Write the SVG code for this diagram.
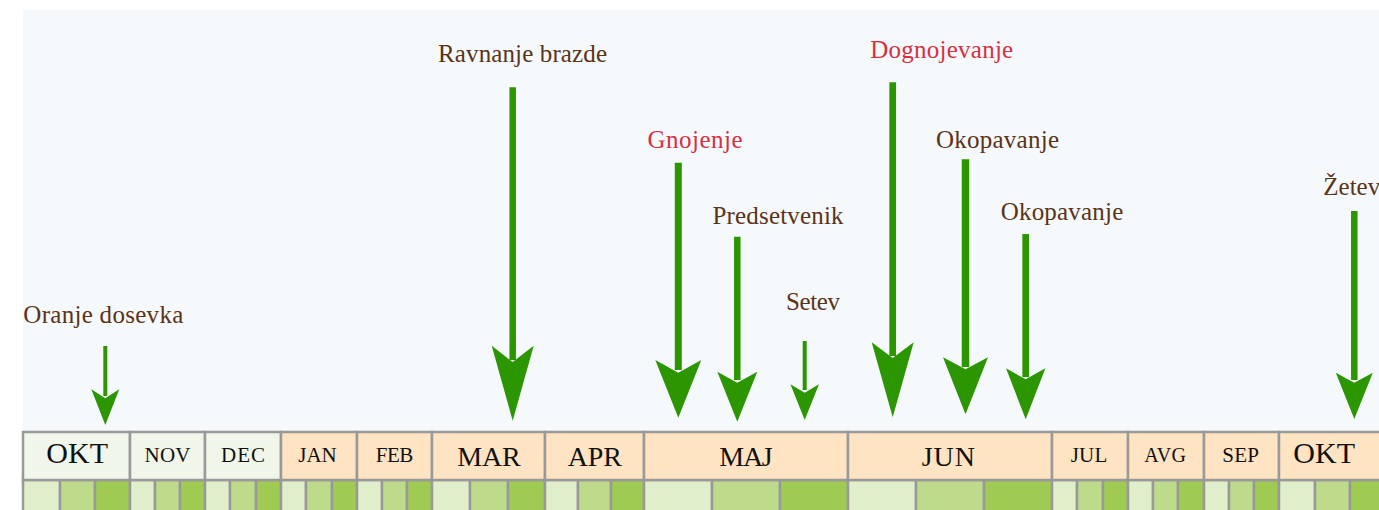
<svg xmlns="http://www.w3.org/2000/svg" width="1379" height="510" viewBox="0 0 1379 510">
  <style>
    .panel { fill: #f5f9fc; }
    .cell { stroke: #999999; stroke-width: 2.5; }
    .winter { fill: #f0f6e9; }
    .season { fill: #ffe4c3; }
    .d1 { fill: #e1eecb; }
    .d2 { fill: #bddb8b; }
    .d3 { fill: #a0cb53; }
    .mon { font-family: "Liberation Serif", "DejaVu Serif", serif; fill: #111111; text-anchor: middle; }
    .op { font-family: "Liberation Serif", "DejaVu Serif", serif; font-size: 25px; fill: #5b3316; text-anchor: middle; }
    .op.red { fill: #d7303f; }
    .shaft { stroke: #2b9600; fill: none; }
    .head { fill: #2b9600; }
  </style>

  <!-- background panel -->
  <rect class="panel" x="23" y="10" width="1360" height="422"/>

  <!-- calendar: month headers and three decades per month -->
  <g id="calendar">
    <g id="m-okt1">
      <rect class="cell d1" x="23" y="480" width="37" height="34"/>
      <rect class="cell d2" x="60" y="480" width="35" height="34"/>
      <rect class="cell d3" x="95" y="480" width="35" height="34"/>
      <rect class="cell winter" x="23" y="432" width="107" height="48"/>
      <text class="mon" x="77.2" y="463" font-size="30" textLength="62">OKT</text>
    </g>
    <g id="m-nov">
      <rect class="cell d1" x="130" y="480" width="25" height="34"/>
      <rect class="cell d2" x="155" y="480" width="25" height="34"/>
      <rect class="cell d3" x="180" y="480" width="25" height="34"/>
      <rect class="cell winter" x="130" y="432" width="75" height="48"/>
      <text class="mon" x="167.5" y="462" font-size="21" textLength="46">NOV</text>
    </g>
    <g id="m-dec">
      <rect class="cell d1" x="205" y="480" width="25" height="34"/>
      <rect class="cell d2" x="230" y="480" width="26" height="34"/>
      <rect class="cell d3" x="256" y="480" width="25" height="34"/>
      <rect class="cell winter" x="205" y="432" width="76" height="48"/>
      <text class="mon" x="243" y="462" font-size="21" textLength="44">DEC</text>
    </g>
    <g id="m-jan">
      <rect class="cell d1" x="281" y="480" width="25" height="34"/>
      <rect class="cell d2" x="306" y="480" width="26" height="34"/>
      <rect class="cell d3" x="332" y="480" width="25" height="34"/>
      <rect class="cell season" x="281" y="432" width="76" height="48"/>
      <text class="mon" x="317.5" y="462" font-size="21" textLength="38.4">JAN</text>
    </g>
    <g id="m-feb">
      <rect class="cell d1" x="357" y="480" width="25" height="34"/>
      <rect class="cell d2" x="382" y="480" width="25" height="34"/>
      <rect class="cell d3" x="407" y="480" width="25" height="34"/>
      <rect class="cell season" x="357" y="432" width="75" height="48"/>
      <text class="mon" x="394.5" y="462" font-size="21" textLength="37.6">FEB</text>
    </g>
    <g id="m-mar">
      <rect class="cell d1" x="432" y="480" width="38" height="34"/>
      <rect class="cell d2" x="470" y="480" width="38" height="34"/>
      <rect class="cell d3" x="508" y="480" width="37" height="34"/>
      <rect class="cell season" x="432" y="432" width="113" height="48"/>
      <text class="mon" x="489" y="465.5" font-size="28" textLength="63.4">MAR</text>
    </g>
    <g id="m-apr">
      <rect class="cell d1" x="545" y="480" width="33" height="34"/>
      <rect class="cell d2" x="578" y="480" width="33" height="34"/>
      <rect class="cell d3" x="611" y="480" width="33" height="34"/>
      <rect class="cell season" x="545" y="432" width="99" height="48"/>
      <text class="mon" x="594.8" y="465.5" font-size="28" textLength="54.3">APR</text>
    </g>
    <g id="m-maj">
      <rect class="cell d1" x="644" y="480" width="68" height="34"/>
      <rect class="cell d2" x="712" y="480" width="68" height="34"/>
      <rect class="cell d3" x="780" y="480" width="68" height="34"/>
      <rect class="cell season" x="644" y="432" width="204" height="48"/>
      <text class="mon" x="746" y="465.5" font-size="28" textLength="53.4">MAJ</text>
    </g>
    <g id="m-jun">
      <rect class="cell d1" x="848" y="480" width="68" height="34"/>
      <rect class="cell d2" x="916" y="480" width="68" height="34"/>
      <rect class="cell d3" x="984" y="480" width="68" height="34"/>
      <rect class="cell season" x="848" y="432" width="204" height="48"/>
      <text class="mon" x="948.3" y="465.5" font-size="28" textLength="53.3">JUN</text>
    </g>
    <g id="m-jul">
      <rect class="cell d1" x="1052" y="480" width="25" height="34"/>
      <rect class="cell d2" x="1077" y="480" width="26" height="34"/>
      <rect class="cell d3" x="1103" y="480" width="25" height="34"/>
      <rect class="cell season" x="1052" y="432" width="76" height="48"/>
      <text class="mon" x="1089" y="462" font-size="21" textLength="36.6">JUL</text>
    </g>
    <g id="m-avg">
      <rect class="cell d1" x="1128" y="480" width="25" height="34"/>
      <rect class="cell d2" x="1153" y="480" width="25" height="34"/>
      <rect class="cell d3" x="1178" y="480" width="26" height="34"/>
      <rect class="cell season" x="1128" y="432" width="76" height="48"/>
      <text class="mon" x="1165.2" y="462" font-size="20" textLength="41.7">AVG</text>
    </g>
    <g id="m-sep">
      <rect class="cell d1" x="1204" y="480" width="25" height="34"/>
      <rect class="cell d2" x="1229" y="480" width="25" height="34"/>
      <rect class="cell d3" x="1254" y="480" width="25" height="34"/>
      <rect class="cell season" x="1204" y="432" width="75" height="48"/>
      <text class="mon" x="1240.7" y="462" font-size="21" textLength="36.7">SEP</text>
    </g>
    <g id="m-okt2">
      <rect class="cell d1" x="1279" y="480" width="36" height="34"/>
      <rect class="cell d2" x="1315" y="480" width="35" height="34"/>
      <rect class="cell d3" x="1350" y="480" width="36" height="34"/>
      <rect class="cell season" x="1279" y="432" width="107" height="48"/>
      <text class="mon" x="1324.2" y="463" font-size="30" textLength="61.7">OKT</text>
    </g>
  </g>

  <!-- field operations -->
  <g id="op-oranje"><text class="op" x="103.3" y="323" textLength="160">Oranje dosevka</text></g>
  <g id="op-ravnanje"><text class="op" x="522.5" y="62" textLength="169">Ravnanje brazde</text></g>
  <g id="op-gnojenje"><text class="op red" x="695" y="148" textLength="95">Gnojenje</text></g>
  <g id="op-predsetvenik"><text class="op" x="778" y="224" textLength="131">Predsetvenik</text></g>
  <g id="op-setev"><text class="op" x="813" y="310" textLength="54">Setev</text></g>
  <g id="op-dognojevanje"><text class="op red" x="941.7" y="58" textLength="143">Dognojevanje</text></g>
  <g id="op-okopavanje1"><text class="op" x="997.5" y="148" textLength="123">Okopavanje</text></g>
  <g id="op-okopavanje2"><text class="op" x="1062" y="220" textLength="122.6">Okopavanje</text></g>
  <g id="op-zetev"><text class="op" x="1323.3" y="195" style="text-anchor:start">Žetev</text></g>

  <!-- arrows pointing at the calendar -->
  <g id="connectors">
    <g id="a-oranje">
      <line class="shaft" x1="105.3" y1="346" x2="105.3" y2="396" stroke-width="4"/>
      <polygon class="head" points="91.3,389.3 105.3,398.3 119.3,389.3 105.3,425"/>
    </g>
    <g id="a-ravnanje">
      <line class="shaft" x1="512.7" y1="87.3" x2="512.7" y2="360" stroke-width="6.5"/>
      <polygon class="head" points="491.7,345.7 512.7,362 533.7,345.7 512.7,420.7"/>
    </g>
    <g id="a-gnojenje">
      <line class="shaft" x1="678.3" y1="162.7" x2="678.3" y2="370" stroke-width="7"/>
      <polygon class="head" points="655.3,360 678.3,372.7 701.3,360 678.3,417.7"/>
    </g>
    <g id="a-predsetvenik">
      <line class="shaft" x1="737.3" y1="236.7" x2="737.3" y2="380" stroke-width="6.5"/>
      <polygon class="head" points="717.3,371.7 737.3,382.7 757.3,371.7 737.3,421.7"/>
    </g>
    <g id="a-setev">
      <line class="shaft" x1="804.7" y1="341" x2="804.7" y2="390" stroke-width="4"/>
      <polygon class="head" points="790.4,384.3 804.7,392.7 819,384.3 804.7,420"/>
    </g>
    <g id="a-dognojevanje">
      <line class="shaft" x1="892.7" y1="82.3" x2="892.7" y2="356" stroke-width="6.7"/>
      <polygon class="head" points="871.7,342.3 892.7,358 913.7,342.3 892.7,417.3"/>
    </g>
    <g id="a-okopavanje1">
      <line class="shaft" x1="965.5" y1="159.3" x2="965.5" y2="367" stroke-width="7.5"/>
      <polygon class="head" points="943,357.3 965.5,369.3 988,357.3 965.5,414.3"/>
    </g>
    <g id="a-okopavanje2">
      <line class="shaft" x1="1025.7" y1="234" x2="1025.7" y2="377" stroke-width="6.7"/>
      <polygon class="head" points="1006,368.3 1025.7,379.3 1045.4,368.3 1025.7,419.3"/>
    </g>
    <g id="a-zetev">
      <line class="shaft" x1="1354.3" y1="211" x2="1354.3" y2="380" stroke-width="6.5"/>
      <polygon class="head" points="1335.8,372.7 1354.3,382.7 1372.8,372.7 1354.3,419"/>
    </g>
  </g>
</svg>
